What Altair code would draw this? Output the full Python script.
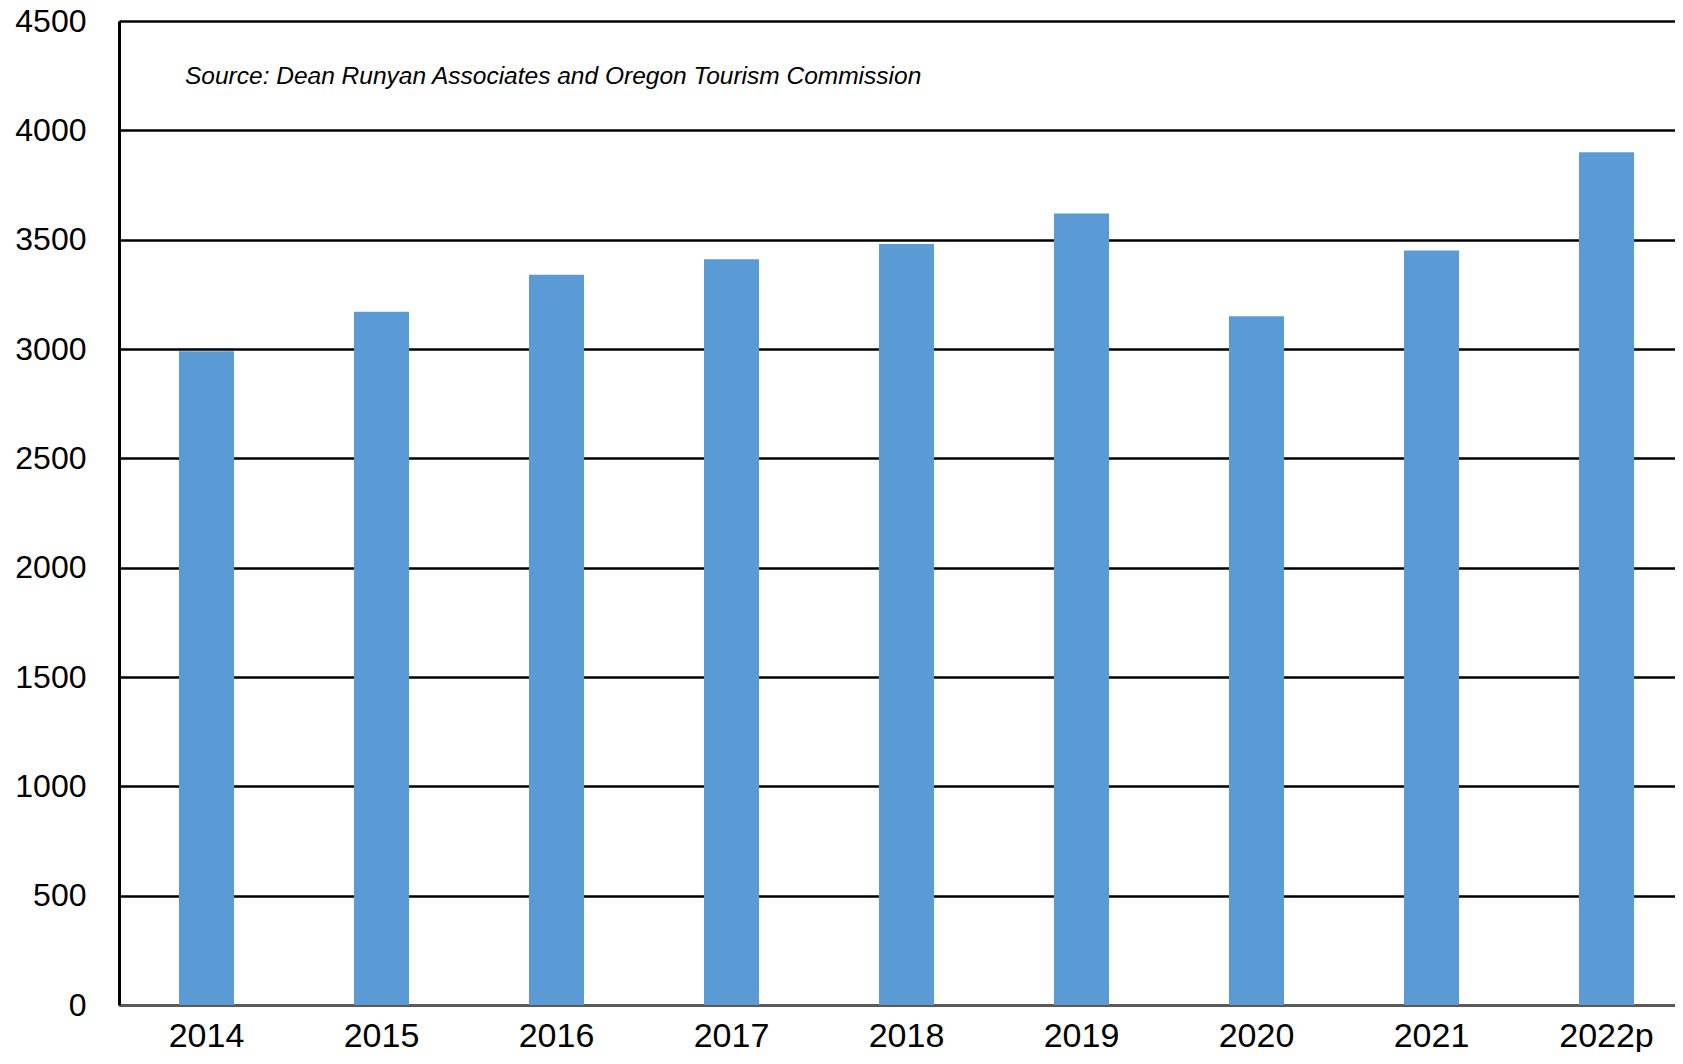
import altair as alt
import pandas as pd

years = ["2014", "2015", "2016", "2017", "2018", "2019", "2020", "2021", "2022p"]
values = [2990, 3170, 3340, 3410, 3480, 3620, 3150, 3450, 3900]
y_ticks = [0, 500, 1000, 1500, 2000, 2500, 3000, 3500, 4000, 4500]
source_note = "Source: Dean Runyan Associates and Oregon Tourism Commission"

df = pd.DataFrame({"year": years, "value": values})

FONT = "Liberation Sans"

bars = alt.Chart(df).mark_bar(width=55, color="#5B9BD5").encode(
    x=alt.X(
        "year:N",
        sort=years,
        scale=alt.Scale(paddingInner=0, paddingOuter=0, range=[0, 1575]),
        axis=alt.Axis(
            title=None,
            labelAngle=0,
            labelFontSize=34,
            labelFont=FONT,
            labelColor="black",
            labelPadding=14,
            ticks=False,
            domainColor="#5a5a5a",
            domainWidth=3,
            grid=False,
        ),
    ),
    y=alt.Y(
        "value:Q",
        scale=alt.Scale(domain=[0, 4500], nice=False),
        axis=alt.Axis(
            title=None,
            values=y_ticks,
            format="d",
            labelFontSize=32,
            labelFont=FONT,
            labelColor="black",
            labelPadding=33,
            ticks=False,
            domainColor="black",
            domainWidth=3,
            gridColor="black",
            gridWidth=2.5,
            gridOpacity=1,
        ),
    ),
)

note = alt.Chart(pd.DataFrame({"t": [source_note]})).mark_text(
    align="left",
    baseline="middle",
    fontStyle="italic",
    font=FONT,
    fontSize=24.5,
    color="black",
).encode(text="t:N", x=alt.value(66), y=alt.value(56))

chart = (
    alt.layer(bars, note)
    .properties(
        width=1556,
        height=984,
        autosize=alt.AutoSizeParams(type="none"),
        padding={"left": 111, "top": 13, "right": 0, "bottom": 47},
    )
    .configure_view(stroke=None)
    .configure(background="white")
)

chart.save("out.html", embed_options={"renderer": "svg", "actions": False})
